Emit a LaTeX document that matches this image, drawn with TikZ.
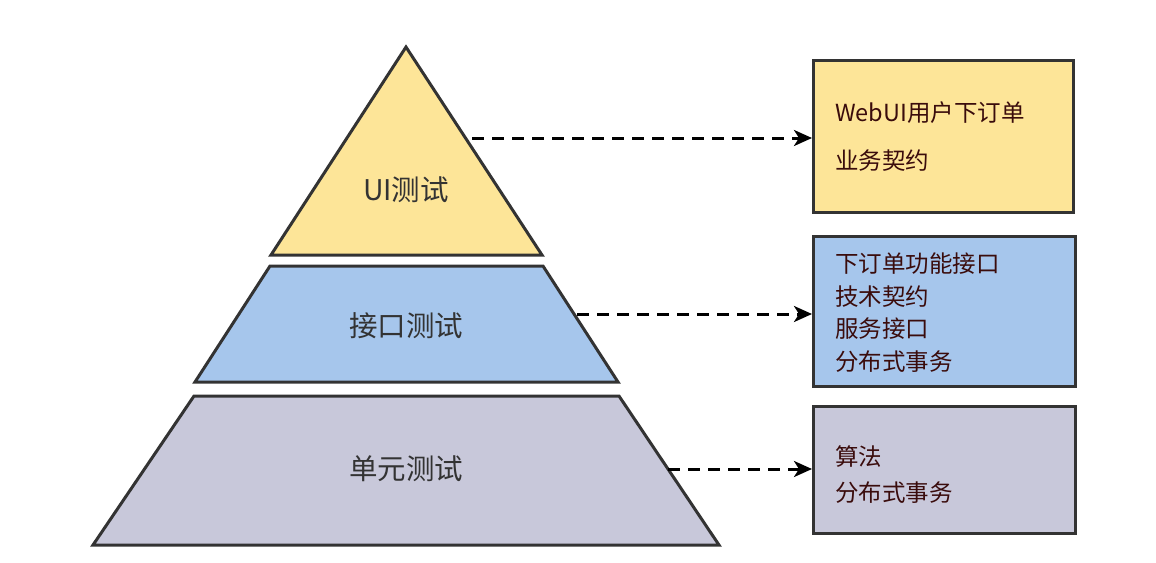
\documentclass[tikz,border=0pt]{standalone}
\usepackage{fontspec}
\newfontfamily\cjk{Noto Sans CJK SC}
\usetikzlibrary{arrows.meta}
\definecolor{cyel}{HTML}{FDE598}
\definecolor{cblu}{HTML}{A6C6EC}
\definecolor{cgry}{HTML}{C8C8DA}
\definecolor{cline}{HTML}{333333}
\definecolor{clabel}{HTML}{333333}
\definecolor{ctext}{HTML}{3A0C0C}
\tikzset{
  layer/.style={draw=cline, line width=3pt, line join=miter},
  lbl/.style={font=\cjk\fontsize{28.5}{32}\selectfont, text=clabel, inner sep=0pt},
  infobox/.style={draw=cline, line width=3pt, inner sep=0pt},
  info/.style={font=\cjk\fontsize{23.5}{27}\selectfont, text=ctext, anchor=west, inner sep=0pt},
  link/.style={draw=black, line width=3pt, dash pattern=on 12pt off 8pt, -{Stealth[length=18pt,width=16pt,inset=5pt]}},
}
\begin{document}
\begin{tikzpicture}[x=1pt,y=-1pt]
\useasboundingbox (0,0) rectangle (1156,562);
% pyramid
\coordinate (t1) at (406,47);
\coordinate (t2) at (542,255);
\coordinate (t3) at (271,255);
\filldraw[layer, fill=cyel] (t1) -- (t2) -- (t3) -- cycle;
\coordinate (m1) at (270,266);
\coordinate (m2) at (543,266);
\coordinate (m3) at (618,382);
\coordinate (m4) at (195,382);
\filldraw[layer, fill=cblu] (m1) -- (m2) -- (m3) -- (m4) -- cycle;
\coordinate (u1) at (194,396);
\coordinate (u2) at (619,396);
\coordinate (u3) at (719,545);
\coordinate (u4) at (93,545);
\filldraw[layer, fill=cgry] (u1) -- (u2) -- (u3) -- (u4) -- cycle;
\node[lbl] (lui) at (406,190) {UI测试};
\node[lbl] (lapi) at (406,326) {接口测试};
\node[lbl] (lunit) at (406,469) {单元测试};
% boxes
\node[infobox, fill=cyel, minimum width=260pt, minimum height=152pt] (b1) at (943.5,136.5) {};
\node[infobox, fill=cblu, minimum width=262pt, minimum height=150pt] (b2) at (944.5,311.5) {};
\node[infobox, fill=cgry, minimum width=262pt, minimum height=127pt] (b3) at (944.5,470) {};
\node[info] (b1a) at (835,113) {WebUI用户下订单};
\node[info] (b1b) at (835,161) {业务契约};
\node[info] (b2a) at (835,264) {下订单功能接口};
\node[info] (b2b) at (835,297) {技术契约};
\node[info] (b2c) at (835,329) {服务接口};
\node[info] (b2d) at (835,362) {分布式事务};
\node[info] (b3a) at (835,457) {算法};
\node[info] (b3b) at (835,493) {分布式事务};
% connectors
\coordinate (s1) at (472,138);
\coordinate (s2) at (577,314);
\coordinate (s3) at (668,469);
\draw[link] (s1) -- (b1.west |- s1);
\draw[link] (s2) -- (b2.west |- s2);
\draw[link] (s3) -- (b3.west |- s3);
\end{tikzpicture}
\end{document}
